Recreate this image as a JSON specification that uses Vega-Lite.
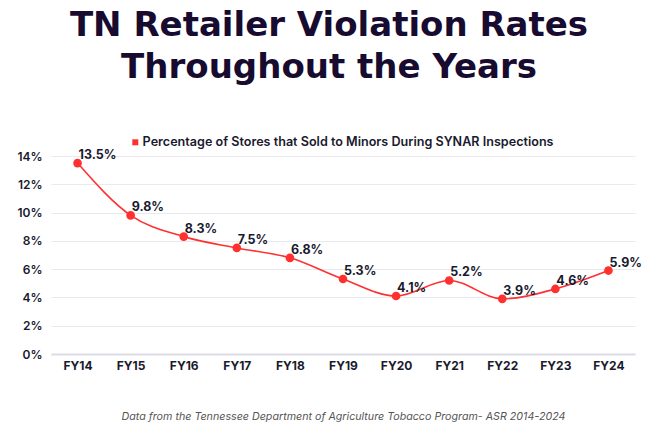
{
  "$schema": "https://vega.github.io/schema/vega-lite/v6.json",
  "width": 584,
  "height": 198,
  "autosize": {"type": "none"},
  "padding": {"left": 51, "top": 156, "right": 24, "bottom": 89},
  "background": "white",
  "config": {
    "view": {"stroke": null},
    "font": "Inter"
  },
  "title": {
    "text": ["TN Retailer Violation Rates", "Throughout the Years"],
    "font": "DejaVu Sans",
    "fontSize": 34,
    "fontWeight": "bold",
    "color": "#170b30",
    "anchor": "middle",
    "frame": "group",
    "dx": -14,
    "offset": 51,
    "lineHeight": 42
  },
  "data": {
    "values": [
      {"year": "FY14", "rate": 0.135, "series": "Percentage of Stores that Sold to Minors During SYNAR Inspections"},
      {"year": "FY15", "rate": 0.098, "series": "Percentage of Stores that Sold to Minors During SYNAR Inspections"},
      {"year": "FY16", "rate": 0.083, "series": "Percentage of Stores that Sold to Minors During SYNAR Inspections"},
      {"year": "FY17", "rate": 0.075, "series": "Percentage of Stores that Sold to Minors During SYNAR Inspections"},
      {"year": "FY18", "rate": 0.068, "series": "Percentage of Stores that Sold to Minors During SYNAR Inspections"},
      {"year": "FY19", "rate": 0.053, "series": "Percentage of Stores that Sold to Minors During SYNAR Inspections"},
      {"year": "FY20", "rate": 0.041, "series": "Percentage of Stores that Sold to Minors During SYNAR Inspections"},
      {"year": "FY21", "rate": 0.052, "series": "Percentage of Stores that Sold to Minors During SYNAR Inspections"},
      {"year": "FY22", "rate": 0.039, "series": "Percentage of Stores that Sold to Minors During SYNAR Inspections"},
      {"year": "FY23", "rate": 0.046, "series": "Percentage of Stores that Sold to Minors During SYNAR Inspections"},
      {"year": "FY24", "rate": 0.059, "series": "Percentage of Stores that Sold to Minors During SYNAR Inspections"}
    ]
  },
  "encoding": {
    "x": {
      "field": "year",
      "type": "ordinal",
      "scale": {"type": "point", "padding": 0.5},
      "axis": {
        "title": "Data from the Tennessee Department of Agriculture Tobacco Program- ASR 2014-2024",
        "titleFont": "Inter",
        "titleFontStyle": "italic",
        "titleFontWeight": "normal",
        "titleFontSize": 10.7,
        "titleColor": "#555555",
        "titlePadding": 40,
        "labelAngle": 0,
        "labelFont": "Inter",
        "labelFontSize": 12,
        "labelFontWeight": 700,
        "labelColor": "#1a1a2e",
        "labelPadding": 6,
        "ticks": false,
        "domain": true,
        "domainColor": "#dcdce6",
        "domainWidth": 2,
        "grid": false
      }
    },
    "y": {
      "field": "rate",
      "type": "quantitative",
      "scale": {"domain": [0, 0.14], "nice": false},
      "axis": {
        "title": null,
        "values": [0, 0.02, 0.04, 0.06, 0.08, 0.1, 0.12, 0.14],
        "format": ".0%",
        "labelFont": "Inter",
        "labelFontSize": 12,
        "labelFontWeight": 600,
        "labelColor": "#1a1a2e",
        "labelPadding": 9,
        "ticks": false,
        "domain": false,
        "gridColor": "#e9e9ef",
        "gridWidth": 1
      }
    }
  },
  "layer": [
    {
      "mark": {"type": "line", "interpolate": "monotone", "color": "#ff3030", "strokeWidth": 1.6}
    },
    {
      "mark": {"type": "point", "filled": true, "size": 75, "opacity": 1},
      "encoding": {
        "color": {
          "field": "series",
          "type": "nominal",
          "scale": {"range": ["#ff3030"]},
          "legend": {
            "title": null,
            "orient": "none",
            "legendX": 78,
            "legendY": -20,
            "symbolType": "square",
            "symbolSize": 36,
            "labelFont": "Inter",
            "labelFontSize": 12.6,
            "labelFontWeight": 600,
            "labelColor": "#1a1a2e",
            "labelLimit": 600,
            "labelOffset": 1
          }
        }
      }
    },
    {
      "mark": {"type": "text", "align": "left", "baseline": "middle", "dx": 1, "dy": -8, "font": "Inter", "fontSize": 12.5, "fontWeight": 700, "color": "#1a1a2e"},
      "encoding": {
        "text": {"field": "rate", "type": "quantitative", "format": ".1%"}
      }
    }
  ]
}
